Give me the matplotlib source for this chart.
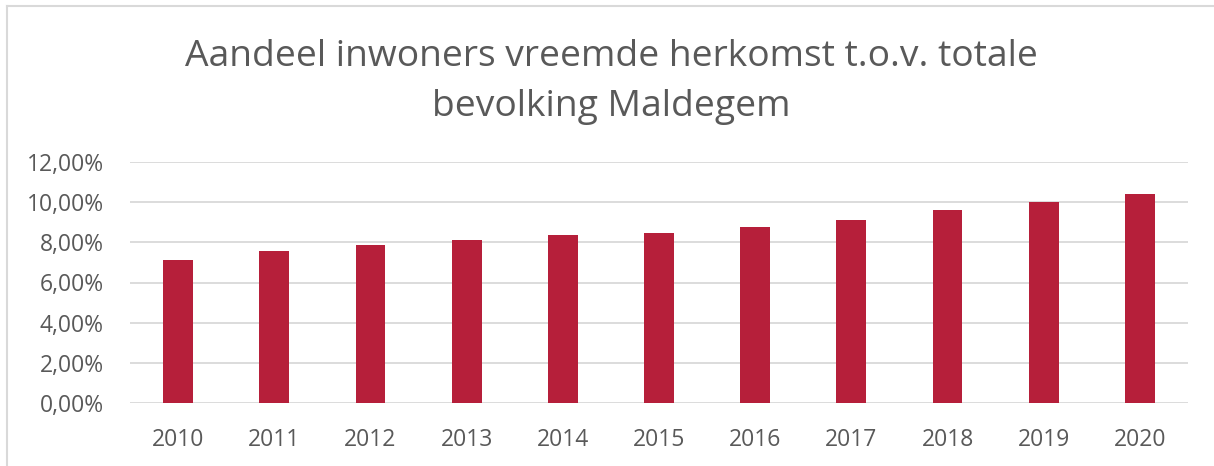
import matplotlib
matplotlib.use("Agg")
import matplotlib.pyplot as plt
from matplotlib.lines import Line2D
from matplotlib.ticker import FuncFormatter

years = ["2010", "2011", "2012", "2013", "2014", "2015",
         "2016", "2017", "2018", "2019", "2020"]
share = [7.10, 7.57, 7.86, 8.11, 8.36, 8.44, 8.77, 9.12, 9.59, 10.02, 10.38]
title = "Aandeel inwoners vreemde herkomst t.o.v. totale\nbevolking Maldegem"

bar_color = "#B61F3A"
text_color = "#595959"
grid_color = "#D9D9D9"

plt.rcParams["font.family"] = ["Open Sans", "DejaVu Sans"]

fig = plt.figure(figsize=(12.14, 4.66), dpi=100)
ax = fig.add_axes([130 / 1214, 62.7 / 466, (1188 - 130) / 1214, 241.6 / 466])

x = range(len(years))
ax.bar(x, share, width=0.31, color=bar_color, zorder=3)

ax.set_xlim(-0.5, len(years) - 0.5)
ax.set_ylim(0, 12)
ax.set_yticks(range(0, 13, 2))
ax.yaxis.set_major_formatter(FuncFormatter(lambda v, p: f"{v:.2f}%".replace(".", ",")))
ax.set_xticks(list(x))
ax.set_xticklabels(years)

ax.grid(axis="y", color=grid_color, lw=1.3, zorder=0)
for s in ax.spines.values():
    s.set_visible(False)
ax.tick_params(axis="both", length=0, labelsize=16.5, colors=text_color)
ax.tick_params(axis="y", pad=19)
ax.tick_params(axis="x", pad=18)

fig.text(611 / 1214, 1 - 82 / 466, title, ha="center", va="center",
         fontsize=26.8, color=text_color, linespacing=1.55)

# light frame on left and top edge
fig.add_artist(Line2D([7 / 1214, 7 / 1214], [0, 1 - 6 / 466], color=grid_color, lw=1.5))
fig.add_artist(Line2D([7 / 1214, 1], [1 - 6 / 466, 1 - 6 / 466], color=grid_color, lw=1.5))

fig.savefig("out.png", dpi=100)
